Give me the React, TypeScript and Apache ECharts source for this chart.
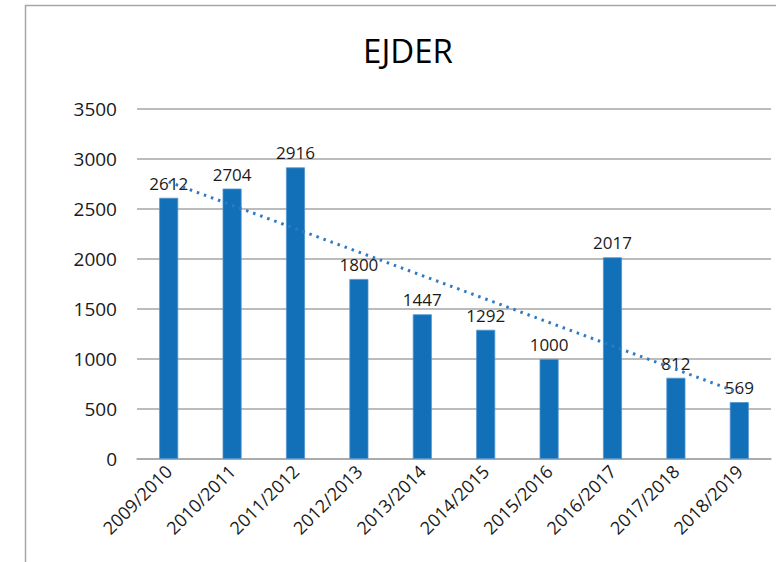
import React, { useEffect, useRef } from "react";
import * as echarts from "echarts";

const title = "EJDER";
const seasons = [
  "2009/2010", "2010/2011", "2011/2012", "2012/2013", "2013/2014",
  "2014/2015", "2015/2016", "2016/2017", "2017/2018", "2018/2019",
];
const counts = [2612, 2704, 2916, 1800, 1447, 1292, 1000, 2017, 812, 569];
const yTicks = [0, 500, 1000, 1500, 2000, 2500, 3000, 3500];

// Linear (least squares) trend line computed from the data, as a spreadsheet trendline does
function trend(values: number[]): number[] {
  const n = values.length;
  const xs = values.map((_, i) => i + 1);
  const mx = xs.reduce((a, b) => a + b, 0) / n;
  const my = values.reduce((a, b) => a + b, 0) / n;
  let sxy = 0, sxx = 0;
  for (let i = 0; i < n; i++) {
    sxy += (xs[i] - mx) * (values[i] - my);
    sxx += (xs[i] - mx) * (xs[i] - mx);
  }
  const b = sxy / sxx;
  return xs.map((x) => my + b * (x - mx));
}

const FONT = "Open Sans";

export default function App() {
  const ref = useRef<HTMLDivElement>(null);
  useEffect(() => {
    if (!ref.current) return;
    const chart = echarts.init(ref.current, null, { renderer: "svg" });
    chart.setOption({
      animation: false,
      backgroundColor: "#ffffff",
      textStyle: { fontFamily: FONT },
      title: {
        text: title,
        left: 403,
        textAlign: "center",
        top: 29,
        textStyle: { fontSize: 33, fontWeight: "normal", color: "#000000", fontFamily: FONT },
      },
      graphic: [
        {
          type: "polyline",
          shape: { points: [[25.5, 562], [25.5, 5.5], [776, 5.5]] },
          style: { stroke: "#a6a6a6", fill: "none", lineWidth: 1.5 },
          silent: true,
        },
      ],
      grid: { left: 137, right: 5, top: 109, bottom: 103, containLabel: false },
      xAxis: {
        type: "category",
        data: seasons,
        axisLine: { show: true, lineStyle: { color: "#a6a6a6", width: 1.5 } },
        axisTick: { show: false },
        axisLabel: {
          rotate: 45,
          interval: 0,
          fontSize: 18,
          color: "#1a1a1a",
          margin: 9,
          fontFamily: FONT,
        },
      },
      yAxis: {
        type: "value",
        min: yTicks[0],
        max: yTicks[yTicks.length - 1],
        interval: 500,
        axisLine: { show: false },
        axisTick: { show: false },
        splitLine: { lineStyle: { color: "#a6a6a6", width: 1.5 } },
        axisLabel: {
          fontSize: 19,
          color: "#1a1a1a",
          margin: 20,
          fontFamily: FONT,
          formatter: (v: number) => String(v),
        },
      },
      series: [
        {
          type: "bar",
          data: counts,
          barWidth: 19,
          itemStyle: { color: "#1170b8", borderColor: "#4f94cf", borderWidth: 0.8 },
          label: {
            show: true,
            position: "top",
            distance: 6,
            fontSize: 17,
            color: "#1a1a1a",
            fontFamily: FONT,
          },
          z: 2,
        },
        {
          type: "line",
          data: trend(counts),
          symbol: "none",
          lineStyle: { color: "#2e7bc4", width: 3, type: [2.5, 5], cap: "butt" },
          z: 3,
          silent: true,
        },
      ],
    });
    return () => chart.dispose();
  }, []);
  return (
    <div
      ref={ref}
      style={{ position: "absolute", left: 0, top: 0, width: 776, height: 562 }}
    />
  );
}
